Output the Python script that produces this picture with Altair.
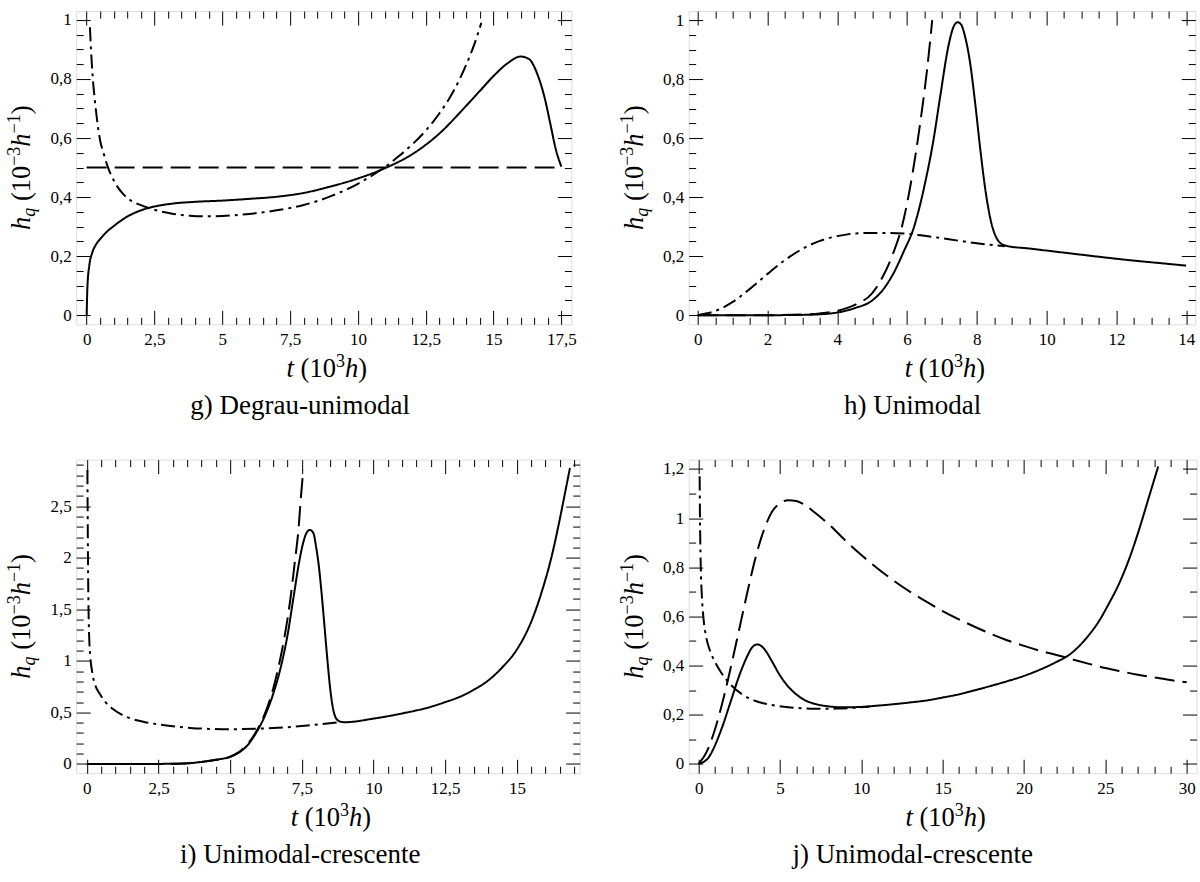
import altair as alt
import numpy as np
import pandas as pd

# ---------------- data ----------------
SERIES = ["continua", "tracejada", "traco_ponto"]

# g) Degrau-unimodal
g_solid_t = [0, 0.03, 0.1, 0.2, 0.35, 0.5, 0.75, 1.0, 1.5, 2.0, 2.5, 3.0, 4.0, 5.0, 6.0, 7.0, 8.0, 9.0, 10.0,
             11.0, 12.0, 13.0, 14.0, 14.5, 15.0, 15.5, 16.0, 16.3, 16.6, 16.9, 17.1, 17.3, 17.5]
g_solid_h = [0, 0.1, 0.17, 0.21, 0.24, 0.258, 0.283, 0.302, 0.334, 0.355, 0.368, 0.376, 0.384, 0.388, 0.394,
             0.401, 0.414, 0.436, 0.463, 0.498, 0.545, 0.615, 0.71, 0.76, 0.81, 0.852, 0.876, 0.868, 0.82,
             0.73, 0.645, 0.56, 0.503]
g_dash_t = [0, 17.5]
g_dash_h = [0.5, 0.5]
g_dd_t = [0.12, 0.16, 0.22, 0.3, 0.4, 0.5, 0.62, 0.75, 0.9, 1.1, 1.35, 1.6, 1.9, 2.25, 2.7, 3.2, 3.8, 4.4,
          5.0, 6.0, 7.0, 8.0, 9.0, 10.0, 10.5, 11.0, 11.5, 12.0, 12.5, 13.0, 13.5, 14.0, 14.3, 14.55]
g_dd_h = [0.975, 0.9, 0.81, 0.73, 0.65, 0.59, 0.55, 0.51, 0.475, 0.44, 0.41, 0.39, 0.376, 0.364, 0.352,
          0.343, 0.337, 0.335, 0.336, 0.343, 0.355, 0.373, 0.403, 0.445, 0.472, 0.502, 0.538, 0.578, 0.625,
          0.683, 0.755, 0.85, 0.92, 0.99]

# h) Unimodal
h_solid_t = [0, 1, 2, 3, 3.5, 4.0, 4.5, 5.0, 5.3, 5.6, 5.9, 6.2, 6.5, 6.75, 6.96, 7.18, 7.34, 7.45, 7.55,
             7.65, 7.8, 7.95, 8.1, 8.25, 8.4, 8.55, 8.7, 8.85, 9.5, 10.5, 11.5, 12.5, 13.3, 14.0]
h_solid_h = [0, 0, 0, 0.001, 0.003, 0.009, 0.024, 0.05, 0.085, 0.14, 0.215, 0.3, 0.44, 0.59, 0.75, 0.91,
             0.98, 0.993, 0.985, 0.95, 0.86, 0.72, 0.56, 0.42, 0.32, 0.265, 0.242, 0.235, 0.226, 0.212,
             0.198, 0.185, 0.176, 0.168]
h_dash_t = [0, 1, 2, 3, 3.5, 4.0, 4.5, 5.0, 5.3, 5.6, 5.85, 6.05, 6.25, 6.42, 6.57, 6.72]
h_dash_h = [0, 0, 0, 0.002, 0.006, 0.015, 0.035, 0.075, 0.13, 0.21, 0.3, 0.41, 0.55, 0.69, 0.83, 1.0]
h_dd_t = [0, 0.5, 1.0, 1.5, 2.0, 2.5, 3.0, 3.5, 4.0, 4.5, 5.0, 5.5, 6.0, 6.5, 7.0, 7.5, 8.0, 8.5, 8.8]
h_dd_h = [0, 0.014, 0.045, 0.09, 0.14, 0.187, 0.225, 0.252, 0.268, 0.277, 0.279, 0.279, 0.276, 0.269,
          0.261, 0.252, 0.244, 0.237, 0.234]

# i) Unimodal-crescente
i_solid_t = [0, 1, 2, 3, 3.5, 4.0, 4.5, 5.0, 5.3, 5.6, 5.9, 6.2, 6.5, 6.8, 7.0, 7.2, 7.4, 7.55, 7.68, 7.78,
             7.9, 8.0, 8.1, 8.2, 8.3, 8.4, 8.5, 8.6, 8.7, 8.85, 9.0, 10.0, 11.0, 12.0, 12.5, 13.0, 13.5,
             14.0, 14.5, 15.0, 15.5, 15.9, 16.2, 16.5, 16.7, 16.85]
i_solid_h = [0, 0, 0, 0.002, 0.006, 0.02, 0.04, 0.07, 0.11, 0.18, 0.3, 0.46, 0.68, 0.98, 1.25, 1.6, 1.95,
             2.15, 2.25, 2.27, 2.24, 2.1, 1.9, 1.62, 1.3, 0.98, 0.7, 0.52, 0.44, 0.41, 0.405, 0.44, 0.49,
             0.555, 0.6, 0.65, 0.72, 0.81, 0.94, 1.11, 1.38, 1.7, 2.0, 2.38, 2.66, 2.87]
i_dash_t = [0, 1, 2, 3, 3.5, 4.0, 4.5, 5.0, 5.5, 5.9, 6.2, 6.5, 6.7, 6.9, 7.1, 7.25, 7.38, 7.47, 7.55]
i_dash_h = [0, 0, 0, 0.002, 0.006, 0.02, 0.04, 0.07, 0.16, 0.31, 0.48, 0.73, 0.96, 1.24, 1.6, 1.95, 2.27,
            2.6, 2.85]
i_dd_t = [0.02, 0.03, 0.05, 0.08, 0.12, 0.2, 0.3, 0.45, 0.65, 0.9, 1.2, 1.6, 2.0, 2.5, 3.0, 3.6, 4.3, 5.0,
          6.0, 7.0, 7.6, 8.2, 8.8]
i_dd_h = [2.85, 2.4, 1.7, 1.25, 1.05, 0.87, 0.76, 0.68, 0.6, 0.535, 0.48, 0.435, 0.408, 0.383, 0.365, 0.35,
          0.34, 0.337, 0.343, 0.357, 0.37, 0.388, 0.405]

# j) Unimodal-crescente
j_solid_t = [0, 0.3, 0.6, 1.0, 1.5, 2.0, 2.5, 3.0, 3.3, 3.6, 3.9, 4.2, 4.5, 5.0, 5.5, 6.0, 6.5, 7.0, 8.0, 9.0,
             10.0, 11.0, 12.0, 13.0, 14.0, 15.0, 16.0, 17.0, 18.0, 19.0, 20.0, 21.0, 22.0, 22.7, 23.4, 24.0,
             24.6, 25.2, 25.75, 26.5, 27.2, 27.7, 28.25]
j_solid_h = [0, 0.008, 0.025, 0.075, 0.16, 0.26, 0.36, 0.44, 0.475, 0.486, 0.477, 0.452, 0.418, 0.36, 0.315,
             0.283, 0.26, 0.247, 0.234, 0.23, 0.232, 0.237, 0.243, 0.25, 0.258, 0.27, 0.283, 0.3, 0.318,
             0.337, 0.358, 0.384, 0.415, 0.44, 0.48, 0.525, 0.58, 0.65, 0.72, 0.84, 0.98, 1.09, 1.21]
j_dash_t = [0, 0.5, 1.0, 1.5, 2.0, 2.5, 3.0, 3.5, 4.0, 4.5, 5.0, 5.5, 6.0, 6.5, 7.0, 8.0, 9.0, 10.0, 11.0,
            12.0, 13.0, 14.0, 15.0, 16.0, 17.0, 18.0, 19.0, 20.0, 21.0, 22.0, 23.0, 24.0, 25.0, 26.0, 27.0,
            28.0, 29.0, 30.0]
j_dash_h = [0, 0.05, 0.14, 0.26, 0.4, 0.55, 0.7, 0.84, 0.95, 1.025, 1.06, 1.073, 1.07, 1.055, 1.03, 0.975,
            0.91, 0.85, 0.795, 0.745, 0.7, 0.66, 0.622, 0.588, 0.557, 0.528, 0.502, 0.48, 0.46, 0.443,
            0.425, 0.407, 0.39, 0.376, 0.363, 0.352, 0.341, 0.332]
j_dd_t = [0.06, 0.09, 0.13, 0.2, 0.3, 0.45, 0.7, 1.0, 1.4, 2.0, 2.7, 3.5, 4.5, 5.5, 6.5, 7.5, 8.5, 9.5, 10.5]
j_dd_h = [1.17, 0.95, 0.8, 0.68, 0.59, 0.52, 0.46, 0.415, 0.37, 0.32, 0.282, 0.256, 0.24, 0.23, 0.226,
          0.224, 0.225, 0.228, 0.233]

SUBTITLES = ["g) Degrau-unimodal", "h) Unimodal", "i) Unimodal-crescente", "j) Unimodal-crescente"]

# ---------------- style ----------------
FONT = "Liberation Serif"
S_BIG = 26.5
S_SMALL = 18
TICK_FONT = 17
MAJOR_TICK = 14
MINOR_TICK = 7
DASHES = [[1, 0], [20, 8], [14, 5, 3, 5]]

# Times-compatible advance widths (em) used to chain title pieces
ADV = {"h": 0.5, "q": 0.5, "t": 0.278, " ": 0.25, "(": 0.333, ")": 0.333,
       "0": 0.5, "1": 0.5, "3": 0.5, "\u2212": 0.564}


def tw(s, size):
    return sum(ADV.get(c, 0.5) for c in s) * size


def ticks(dom, step):
    lo = np.ceil(max(dom[0], 0) / step - 1e-9) * step
    vals = np.arange(lo, dom[1] + 1e-9, step)
    return [float(v) for v in np.round(vals, 6)]


def axis(orient, values, major, labels, pad):
    is_major = f"abs(datum.value / {major} - round(datum.value / {major})) < 0.001"
    kw = dict(orient=orient, values=values, domain=False, grid=False, title=None,
              ticks=True, tickColor="black", tickWidth=1,
              tickSize=alt.ExprRef(expr=f"({is_major}) ? {-MAJOR_TICK} : {-MINOR_TICK}"),
              labelOverlap=False, labelFlush=False)
    if labels:
        kw.update(labels=True,
                  labelExpr=f"({is_major}) ? replace(toString(datum.value), '.', ',') : ''",
                  labelPadding=pad, labelFont=FONT, labelFontSize=TICK_FONT, labelColor="black")
    else:
        kw.update(labels=False)
    return alt.Axis(**kw)


def text_layer(txt, x, y, size, italic=False, angle=0, align="left"):
    return alt.Chart(alt.Data(values=[{"txt": txt}])).mark_text(
        font=FONT, fontSize=size, fontStyle="italic" if italic else "normal",
        align=align, baseline="alphabetic", angle=angle, color="black"
    ).encode(x=alt.value(x), y=alt.value(y), text="txt:N")


def panel(series, W, H, xdom, ydom, xmaj, xmin, ymaj, ymin, subtitle):
    rows = []
    for name, (ts, hs) in zip(SERIES, series):
        assert len(ts) == len(hs)
        rows += [{"t": a, "h": b, "serie": name} for a, b in zip(ts, hs)]
    df = pd.DataFrame(rows)
    xs = alt.Scale(domain=xdom, nice=False, zero=False)
    ys = alt.Scale(domain=ydom, nice=False, zero=False)
    xt = sorted(set(ticks(xdom, xmin)) | set(ticks(xdom, xmaj)))
    yt = sorted(set(ticks(ydom, ymin)) | set(ticks(ydom, ymaj)))

    main = alt.Chart(df).mark_line(strokeWidth=2, color="black", clip=True, strokeJoin="round",
                                   interpolate="monotone").encode(
        x=alt.X("t:Q", scale=xs, axis=axis("bottom", xt, xmaj, True, MAJOR_TICK + 7.6)),
        y=alt.Y("h:Q", scale=ys, axis=axis("left", yt, ymaj, True, MAJOR_TICK + 5)),
        strokeDash=alt.StrokeDash("serie:N", scale=alt.Scale(domain=SERIES, range=DASHES), legend=None),
        detail="serie:N",
    )
    mirror = alt.Chart(df).mark_line(strokeOpacity=0, clip=True).encode(
        x=alt.X("t:Q", scale=xs, axis=axis("top", xt, xmaj, False, 0)),
        y=alt.Y("h:Q", scale=ys, axis=axis("right", yt, ymaj, False, 0)),
        detail="serie:N",
    )
    layers = [main, mirror]

    # y title: h_q (10^-3 h^-1), rotated; (text, size, italic, baseline shift, space before)
    ypieces = [("h", S_BIG, True, 0, 0), ("q", S_SMALL, True, 5, 0), ("(10", S_BIG, False, 0, 0.25 * S_BIG),
               ("\u22123", S_SMALL, False, -10, 0), ("h", S_BIG, True, 0, 0),
               ("\u22121", S_SMALL, False, -10, 0), (")", S_BIG, False, 0, 0)]
    total = sum(tw(p[0], p[1]) + p[4] for p in ypieces)
    pos = H / 2 + total / 2
    bx = -46
    for txt, size, it, shift, sp in ypieces:
        pos -= sp
        layers.append(text_layer(txt, bx + shift, pos, size, it, angle=270))
        pos -= tw(txt, size)

    # x title: t (10^3 h)
    xpieces = [("t", S_BIG, True, 0, 0), ("(10", S_BIG, False, 0, 0.25 * S_BIG), ("3", S_SMALL, False, -10, 0),
               ("h", S_BIG, True, 0, 0), (")", S_BIG, False, 0, 0)]
    total = sum(tw(p[0], p[1]) + p[4] for p in xpieces)
    pos = W / 2 - total / 2 + 3
    by = H + 53
    for txt, size, it, shift, sp in xpieces:
        pos += sp
        layers.append(text_layer(txt, pos, by + shift, size, it))
        pos += tw(txt, size)

    layers.append(text_layer(subtitle, 224, H + 90, 27, align="center"))

    return alt.layer(*layers).resolve_axis(x="independent", y="independent").properties(width=W, height=H)


pg = panel([(g_solid_t, g_solid_h), (g_dash_t, g_dash_h), (g_dd_t, g_dd_h)],
           495.3, 313.3, [-0.386, 17.87], [-0.031, 1.03], 2.5, 0.5, 0.2, 0.05, SUBTITLES[0])
ph = panel([(h_solid_t, h_solid_h), (h_dash_t, h_dash_h), (h_dd_t, h_dd_h)],
           506.7, 313.3, [-0.263, 14.263], [-0.031, 1.031], 2, 0.5, 0.2, 0.05, SUBTITLES[1])
pi = panel([(i_solid_t, i_solid_h), (i_dash_t, i_dash_h), (i_dd_t, i_dd_h)],
           503.6, 313.7, [-0.371, 17.19], [-0.09, 2.952], 2.5, 0.5, 0.5, 0.1, SUBTITLES[2])
pj = panel([(j_solid_t, j_solid_h), (j_dash_t, j_dash_h), (j_dd_t, j_dd_h)],
           508, 313.7, [-0.613, 30.61], [-0.038, 1.238], 5, 1, 0.2, 0.1, SUBTITLES[3])

chart = alt.concat(pg, ph, pi, pj, columns=2, spacing={"row": 134.6, "column": 108.6},
                   bounds="flush").properties(
    padding={"left": 5.2, "top": 10, "right": 2, "bottom": 14}
).configure_view(stroke="#555555", strokeWidth=1.5).configure(background="white")

chart.save("out.html", embed_options={"renderer": "svg", "actions": False})
